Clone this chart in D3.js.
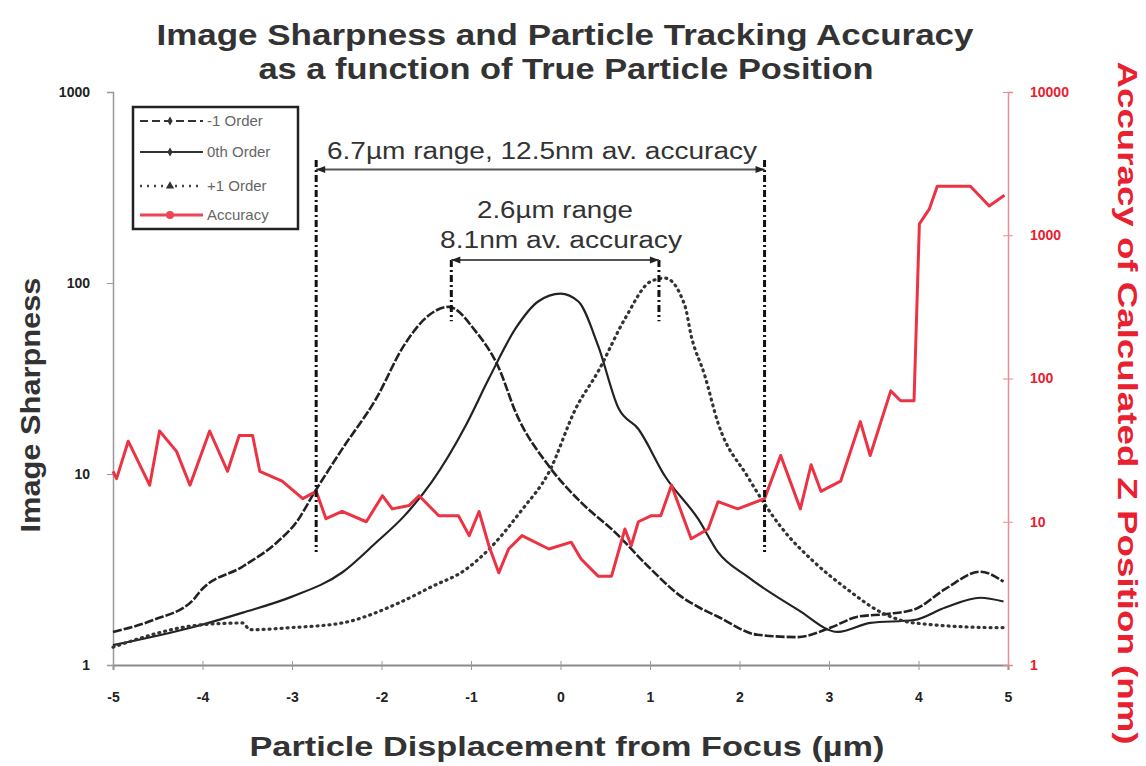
<!DOCTYPE html>
<meta charset="utf-8">
<style>
body { margin: 0; background: #fff; }
svg { font-family: "Liberation Sans", Arial, sans-serif; }
.axis text { font-weight: bold; font-size: 14px; }
</style>
<svg width="1146" height="766"></svg>
<script src="https://d3js.org/d3.v7.min.js"></script>
<script>

// -1 order
var minusX = [-5.0, -4.55, -4.1, -4.03, -3.55, -3.17, -2.95, -2.75, -2.44, -2.06, -1.75, -1.5, -1.25, -0.95, -0.69, -0.5, -0.13, 0.23, 0.61, 0.98, 1.35, 1.55, 1.76, 2.2, 2.65, 3.02, 3.32, 3.65, 3.95, 4.3, 4.69, 4.95];
var minusV = [1.49, 1.72, 2.2, 2.42, 3.28, 4.38, 5.6, 8.0, 13.5, 24.8, 47, 66, 75, 56, 36, 21, 11, 7.1, 4.95, 3.28, 2.28, 2.0, 1.79, 1.44, 1.40, 1.57, 1.79, 1.85, 1.95, 2.5, 3.08, 2.73];

// 0th order
var zeroX = [-5.0, -4.1, -3.55, -3.0, -2.44, -2.06, -1.75, -1.44, -1.06, -0.8, -0.5, -0.25, 0.0, 0.2, 0.42, 0.65, 0.87, 1.17, 1.54, 1.76, 2.09, 2.65, 3.1, 3.46, 3.95, 4.3, 4.69, 4.95];
var zeroV = [1.27, 1.58, 1.88, 2.28, 3.05, 4.38, 6.0, 9.07, 17.9, 31.6, 58, 80, 88, 80, 47, 22, 17.2, 9.7, 5.8, 3.9, 2.9, 1.95, 1.49, 1.66, 1.72, 2.0, 2.25, 2.15];

// +1 order
var plusX = [-5.0, -4.03, -3.55, -3.47, -3.0, -2.44, -1.8, -1.44, -1.06, -0.77, -0.43, -0.13, 0.17, 0.42, 0.72, 1.01, 1.17, 1.39, 1.46, 1.61, 1.76, 2.09, 2.46, 2.84, 3.21, 3.57, 3.95, 4.88, 5.0];
var plusV = [1.24, 1.62, 1.66, 1.53, 1.57, 1.66, 2.12, 2.57, 3.16, 4.17, 6.5, 10.2, 22, 34.4, 65, 102, 106, 76, 53, 33, 18.5, 9.7, 5.3, 3.44, 2.48, 1.9, 1.66, 1.57, 1.57];

// accuracy (nm), right axis
var accX = [-5.0, -4.96, -4.83, -4.59, -4.48, -4.29, -4.14, -3.92, -3.72, -3.59, -3.44, -3.36, -3.11, -2.88, -2.73, -2.62, -2.44, -2.17, -1.99, -1.88, -1.69, -1.58, -1.36, -1.14, -1.02, -0.91, -0.8, -0.69, -0.58, -0.43, -0.13, 0.12, 0.23, 0.42, 0.57, 0.72, 0.79, 0.87, 1.01, 1.12, 1.24, 1.46, 1.65, 1.76, 1.98, 2.28, 2.46, 2.68, 2.8, 2.91, 3.13, 3.35, 3.46, 3.69, 3.8, 3.95, 4.01, 4.12, 4.21, 4.58, 4.79, 4.96];
var accV = [22.5, 20, 36.5, 18, 43, 31, 18, 43, 22.5, 40, 40, 22.5, 19.2, 14.5, 16.3, 10.5, 11.8, 10, 15.2, 12.3, 13, 15.2, 11, 11, 8, 11.8, 6.8, 4.4, 6.45, 8, 6.45, 7.2, 5.5, 4.17, 4.17, 8.9, 6.8, 10, 11, 11, 18, 7.6, 8.9, 13.8, 12.3, 14.5, 29, 12.3, 25, 16.3, 19.2, 50, 29, 82, 70, 70, 1200, 1520, 2200, 2200, 1600, 1900];

var xTicks = [-5, -4, -3, -2, -1, 0, 1, 2, 3, 4, 5];
var leftTicks = [1, 10, 100, 1000];
var rightTicks = [1, 10, 100, 1000, 10000];

// annotation ranges: [x0, x1], arrow level, line bottom (left axis units)
var wideRange = [-2.73, 2.28], wideTop = 440, wideArrow = 393, wideBottom = 3.9;
var narrowRange = [-1.22, 1.10], narrowArrow = 132, narrowBottom = 63;

var legendLabels = ["-1 Order", "0th Order", "+1 Order", "Accuracy"];

var svg = d3.select("svg");

var x = d3.scaleLinear().domain([-5, 5]).range([113, 1008]);
var yL = d3.scaleLog().domain([1, 1000]).range([665, 92]);
var yR = d3.scaleLog().domain([1, 10000]).range([665, 92]);

var plain = function(d) { return String(d); };

// axes
var gx = svg.append("g").attr("class", "axis").attr("transform", "translate(0,665)")
    .call(d3.axisBottom(x).tickValues(xTicks).tickSize(5).tickPadding(22).tickFormat(plain));
gx.select(".domain").attr("stroke", "#8a8a8a").attr("stroke-width", 2);
gx.selectAll(".tick line").attr("y1", -4).attr("stroke", "#999");
gx.selectAll("text").attr("fill", "#222");

var gl = svg.append("g").attr("class", "axis").attr("transform", "translate(113,0)")
    .call(d3.axisLeft(yL).tickValues(leftTicks).tickSize(6).tickPadding(17).tickFormat(plain));
gl.select(".domain").attr("stroke", "#999").attr("stroke-width", 1.5);
gl.selectAll(".tick line").attr("stroke", "#999");
gl.selectAll("text").attr("fill", "#222");

var gr = svg.append("g").attr("class", "axis").attr("transform", "translate(1008,0)")
    .call(d3.axisRight(yR).tickValues(rightTicks).tickSize(5).tickPadding(17).tickFormat(plain));
gr.select(".domain").attr("stroke", "#ee8f98").attr("stroke-width", 1.5);
gr.selectAll(".tick line").attr("x1", -5).attr("stroke", "#e88");
gr.selectAll("text").attr("fill", "#e8202f");

// lines
var lineL = d3.line().x(function(d) { return x(d[0]); }).y(function(d) { return yL(d[1]); }).curve(d3.curveMonotoneX);
var lineR = d3.line().x(function(d) { return x(d[0]); }).y(function(d) { return yR(d[1]); });

function pairs(xs, vs) { return xs.map(function(v, i) { return [v, vs[i]]; }); }

svg.append("path").datum(pairs(zeroX, zeroV))
    .attr("fill", "none").attr("stroke", "#222").attr("stroke-width", 2.2)
    .attr("stroke-linejoin", "round").attr("d", lineL);

svg.append("path").datum(pairs(minusX, minusV))
    .attr("fill", "none").attr("stroke", "#222").attr("stroke-width", 2.6)
    .attr("stroke-dasharray", "9,2").attr("stroke-linejoin", "round").attr("d", lineL);

svg.append("path").datum(pairs(plusX, plusV))
    .attr("fill", "none").attr("stroke", "#333").attr("stroke-width", 3.2)
    .attr("stroke-dasharray", "1,5").attr("stroke-linecap", "round").attr("d", lineL);

svg.append("path").datum(pairs(accX, accV))
    .attr("fill", "none").attr("stroke", "#ec3344").attr("stroke-width", 3)
    .attr("stroke-linejoin", "round").attr("d", lineR);

// annotations
var ann = svg.append("g").attr("stroke", "#111").attr("stroke-width", 3).attr("stroke-dasharray", "7,3,2,3");
ann.selectAll(".wide").data(wideRange).enter().append("line")
    .attr("x1", function(d) { return x(d); }).attr("x2", function(d) { return x(d); })
    .attr("y1", yL(wideTop)).attr("y2", yL(wideBottom));
ann.selectAll(".narrow").data(narrowRange).enter().append("line")
    .attr("x1", function(d) { return x(d); }).attr("x2", function(d) { return x(d); })
    .attr("y1", yL(narrowArrow)).attr("y2", yL(narrowBottom));

function arrow(r, level) {
  var g = svg.append("g").attr("stroke", "#555").attr("stroke-width", 2);
  var yy = yL(level);
  g.append("line").attr("x1", x(r[0])).attr("x2", x(r[1])).attr("y1", yy).attr("y2", yy);
  g.append("path").attr("fill", "#222").attr("stroke", "none")
      .attr("d", "M" + x(r[0]) + "," + yy + "l9,-3.5v7z");
  g.append("path").attr("fill", "#222").attr("stroke", "none")
      .attr("d", "M" + x(r[1]) + "," + yy + "l-9,-3.5v7z");
}
arrow(wideRange, wideArrow);
arrow(narrowRange, narrowArrow);

svg.append("text").attr("x", 542).attr("y", 159).attr("text-anchor", "middle")
    .attr("font-size", 23).attr("fill", "#333")
    .attr("textLength", 430).attr("lengthAdjust", "spacingAndGlyphs")
    .text("6.7µm range, 12.5nm av. accuracy");
svg.append("text").attr("x", 555).attr("y", 218).attr("text-anchor", "middle")
    .attr("font-size", 23).attr("fill", "#333")
    .attr("textLength", 156).attr("lengthAdjust", "spacingAndGlyphs")
    .text("2.6µm range");
svg.append("text").attr("x", 561).attr("y", 248).attr("text-anchor", "middle")
    .attr("font-size", 23).attr("fill", "#333")
    .attr("textLength", 242).attr("lengthAdjust", "spacingAndGlyphs")
    .text("8.1nm av. accuracy");

// titles
svg.append("text").attr("x", 565).attr("y", 45).attr("text-anchor", "middle")
    .attr("font-size", 29).attr("font-weight", "bold").attr("fill", "#333")
    .attr("textLength", 817).attr("lengthAdjust", "spacingAndGlyphs")
    .text("Image Sharpness and Particle Tracking Accuracy");
svg.append("text").attr("x", 566).attr("y", 79).attr("text-anchor", "middle")
    .attr("font-size", 29).attr("font-weight", "bold").attr("fill", "#333")
    .attr("textLength", 615).attr("lengthAdjust", "spacingAndGlyphs")
    .text("as a function of True Particle Position");

svg.append("text").attr("x", 567).attr("y", 756).attr("text-anchor", "middle")
    .attr("font-size", 27).attr("font-weight", "bold").attr("fill", "#333")
    .attr("textLength", 635).attr("lengthAdjust", "spacingAndGlyphs")
    .text("Particle Displacement from Focus (µm)");

svg.append("text").attr("transform", "translate(40,405) rotate(-90)").attr("text-anchor", "middle")
    .attr("font-size", 27).attr("font-weight", "bold").attr("fill", "#333")
    .attr("textLength", 255).attr("lengthAdjust", "spacingAndGlyphs")
    .text("Image Sharpness");

svg.append("text").attr("transform", "translate(1118,403) rotate(90)").attr("text-anchor", "middle")
    .attr("font-size", 27).attr("font-weight", "bold").attr("fill", "#e8202f")
    .attr("textLength", 683).attr("lengthAdjust", "spacingAndGlyphs")
    .text("Accuracy of Calculated Z Position (nm)");

// legend
var lg = svg.append("g");
lg.append("rect").attr("x", 133).attr("y", 107).attr("width", 165).attr("height", 122)
    .attr("fill", "#fff").attr("stroke", "#222").attr("stroke-width", 2.5);
var rows = [121, 152, 186, 215];
var styles = [
  {stroke: "#333", dash: "8,4", w: 2.2},
  {stroke: "#333", dash: null, w: 2},
  {stroke: "#444", dash: "2,5", w: 2.5},
  {stroke: "#ee4455", dash: null, w: 3}
];
legendLabels.forEach(function(label, i) {
  var s = styles[i];
  lg.append("line").attr("x1", 140).attr("x2", 203).attr("y1", rows[i]).attr("y2", rows[i])
      .attr("stroke", s.stroke).attr("stroke-width", s.w).attr("stroke-dasharray", s.dash);
  if (i === 2) {
    lg.append("path").attr("d", d3.symbol().type(d3.symbolTriangle).size(30)())
        .attr("transform", "translate(170," + rows[i] + ")").attr("fill", "#333");
  } else if (i === 3) {
    lg.append("circle").attr("cx", 170).attr("cy", rows[i]).attr("r", 4).attr("fill", "#ee4455");
  } else {
    lg.append("path").attr("d", d3.symbol().type(d3.symbolDiamond).size(24)())
        .attr("transform", "translate(170," + rows[i] + ")").attr("fill", "#333");
  }
  lg.append("text").attr("x", 207).attr("y", rows[i] + 5).attr("font-size", 15).attr("fill", "#666")
      .text(label);
});

</script>
